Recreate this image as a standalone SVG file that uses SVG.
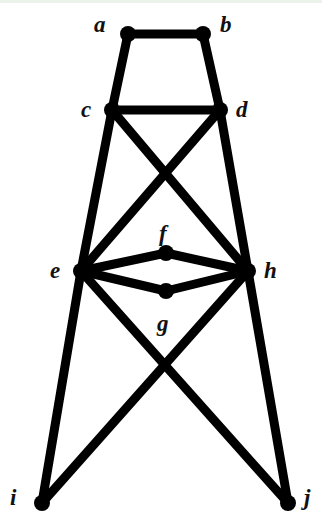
<svg xmlns="http://www.w3.org/2000/svg" width="322" height="516" viewBox="0 0 322 516">
<style>
.e{stroke:#000;stroke-width:9;stroke-linecap:round;fill:none}
.n{fill:#000}
.t{font-family:"Liberation Serif",serif;font-style:italic;font-weight:bold;font-size:23px;fill:#111}
</style>
<rect width="322" height="516" fill="#fff"/>
<rect width="322" height="3" fill="#eaf2ea"/>
<g id="edges" class="e">
<line x1="128" y1="34" x2="203" y2="34"/>
<line x1="128" y1="34" x2="112" y2="110"/>
<line x1="203" y1="34" x2="220" y2="110"/>
<line x1="112" y1="110" x2="220" y2="110"/>
<line x1="112" y1="110" x2="81" y2="271"/>
<line x1="112" y1="110" x2="248" y2="271"/>
<line x1="220" y1="110" x2="81" y2="271"/>
<line x1="220" y1="110" x2="248" y2="271"/>
<line x1="81" y1="271" x2="166" y2="253"/>
<line x1="166" y1="253" x2="248" y2="271"/>
<line x1="81" y1="271" x2="166" y2="291"/>
<line x1="166" y1="291" x2="248" y2="271"/>
<line x1="81" y1="271" x2="42" y2="503"/>
<line x1="81" y1="271" x2="288" y2="503"/>
<line x1="248" y1="271" x2="42" y2="503"/>
<line x1="248" y1="271" x2="288" y2="503"/>
</g>
<g id="a"><circle class="n" cx="128" cy="34" r="8"/><text class="t" x="94" y="32">a</text></g>
<g id="b"><circle class="n" cx="203" cy="34" r="8"/><text class="t" x="220" y="32">b</text></g>
<g id="c"><circle class="n" cx="112" cy="110" r="8"/><text class="t" x="81" y="117">c</text></g>
<g id="d"><circle class="n" cx="220" cy="110" r="8"/><text class="t" x="236" y="117">d</text></g>
<g id="e"><circle class="n" cx="81" cy="271" r="8"/><text class="t" x="50" y="278">e</text></g>
<g id="f"><circle class="n" cx="166" cy="253" r="8"/><text class="t" x="159" y="241">f</text></g>
<g id="g"><circle class="n" cx="166" cy="291" r="8"/><text class="t" x="157" y="331">g</text></g>
<g id="h"><circle class="n" cx="248" cy="271" r="8"/><text class="t" x="264" y="278">h</text></g>
<g id="i"><circle class="n" cx="42" cy="503" r="8"/><text class="t" x="10" y="505">i</text></g>
<g id="j"><circle class="n" cx="288" cy="503" r="8"/><text class="t" x="304" y="505">j</text></g>
</svg>
